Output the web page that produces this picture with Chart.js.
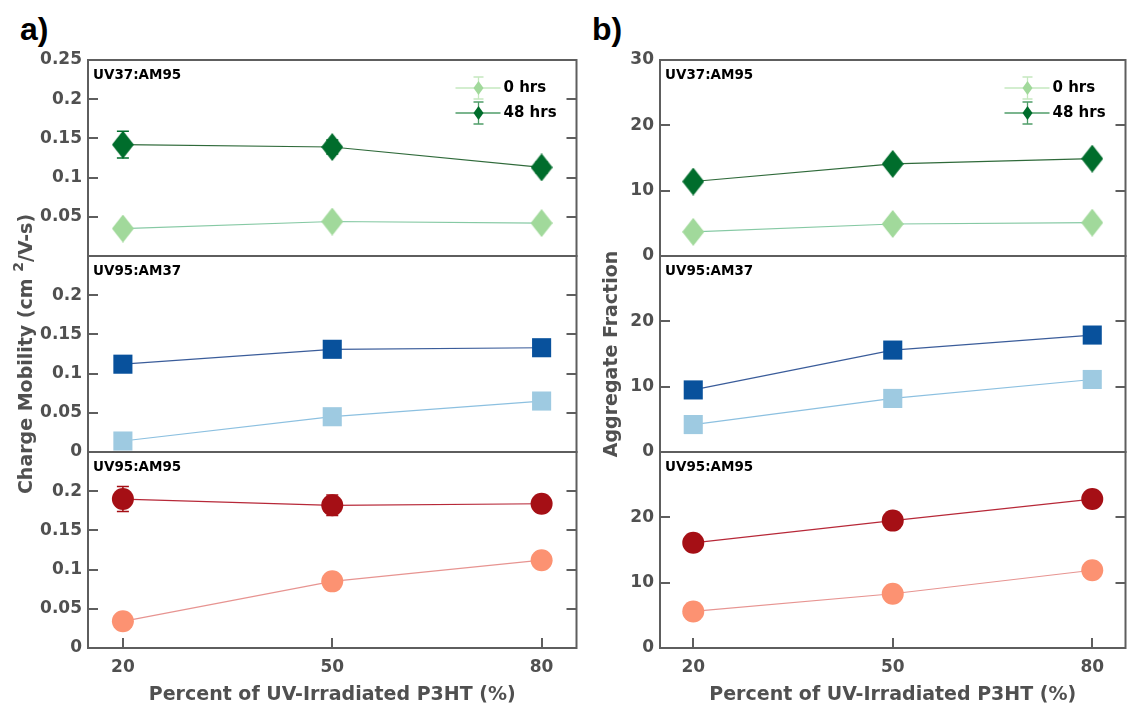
<!DOCTYPE html>
<html>
<head>
<meta charset="utf-8">
<script src="https://cdn.jsdelivr.net/npm/chart.js@4.4.1/dist/chart.umd.min.js"></script>
<style>
  html, body { margin: 0; padding: 0; background: #fff; width: 1139px; height: 711px; overflow: hidden; }
  .wrap { position: absolute; top: 0; }
  .tag { position: absolute; font: bold 32px "Liberation Sans", Arial, sans-serif; line-height: 1; color: #000; }
</style>
</head>
<body>
<div class="tag" style="left:20px; top:13px;">a)</div>
<div class="tag" style="left:592px; top:13px;">b)</div>
<div class="wrap" style="left:0px;"><canvas id="mobility" width="590" height="711"></canvas></div>
<div class="wrap" style="left:590px;"><canvas id="fraction" width="549" height="711"></canvas></div>
<script>
// ---- data ----
const percentUV = [20, 50, 80];
const xTickValues = [20, 50, 80];

const mobilityTicks = [0, 0.05, 0.1, 0.15, 0.2, 0.25];
const mobilityTopLabels = ['', '0.05', '0.1', '0.15', '0.2', '0.25'];
const mobilityLowerLabels = ['0', '0.05', '0.1', '0.15', '0.2', ''];

const fractionTicks = [0, 10, 20, 30];
const fractionTopLabels = ['0', '10', '20', '30'];
const fractionLowerLabels = ['0', '10', '20', ''];

const panelNames = ['UV37:AM95', 'UV95:AM37', 'UV95:AM95'];
const seriesNames = ['0 hrs', '48 hrs'];

// charge mobility (cm^2/V-s)
const mobUV37AM95_0h  = [0.035, 0.044, 0.042];
const mobUV37AM95_48h = [0.142, 0.139, 0.113];
const mobUV95AM37_0h  = [0.014, 0.045, 0.065];
const mobUV95AM37_48h = [0.112, 0.131, 0.133];
const mobUV95AM95_0h  = [0.034, 0.085, 0.112];
const mobUV95AM95_48h = [0.190, 0.182, 0.184];

const mobErrUV37AM95_0h  = [0.004, 0.005, 0.004];
const mobErrUV37AM95_48h = [0.017, 0.009, 0.007];
const mobErrUV95AM37_0h  = [0.003, 0.004, 0.004];
const mobErrUV95AM37_48h = [0.005, 0.008, 0.006];
const mobErrUV95AM95_0h  = [0.004, 0.006, 0.006];
const mobErrUV95AM95_48h = [0.016, 0.013, 0.007];

// aggregate fraction
const aggUV37AM95_0h  = [3.7, 4.9, 5.1];
const aggUV37AM95_48h = [11.4, 14.1, 14.9];
const aggUV95AM37_0h  = [4.2, 8.2, 11.1];
const aggUV95AM37_48h = [9.5, 15.6, 17.9];
const aggUV95AM95_0h  = [5.6, 8.3, 11.9];
const aggUV95AM95_48h = [16.1, 19.5, 22.8];

const aggErrUV37AM95_0h  = [0.5, 0.5, 0.5];
const aggErrUV37AM95_48h = [0.6, 0.6, 0.6];
const aggErrUV95AM37_0h  = [0.5, 0.5, 0.5];
const aggErrUV95AM37_48h = [0.6, 0.6, 0.6];
const aggErrUV95AM95_0h  = [0.5, 0.5, 0.5];
const aggErrUV95AM95_48h = [0.6, 0.6, 0.6];

// ---- styling ----
const FONT = '"DejaVu Sans", "Liberation Sans", sans-serif';
const tickColor = '#505050';
const frameColor = '#5e5e5e';

const palette = {
  green: { light: '#a1d99b', dark: '#006d2c', lightLine: '#86c9a4', darkLine: '#2f6a3a',
           legendLight: '#c5e8bf', legendDark: '#4f9d68' },
  blue:  { light: '#9ecae1', dark: '#08519c', lightLine: '#8cc0e0', darkLine: '#3a5c9a' },
  red:   { light: '#fc9272', dark: '#a50f15', lightLine: '#e79491', darkLine: '#b72838' }
};

function makeDiamond(color, w, h) {
  const c = document.createElement('canvas');
  c.width = w; c.height = h;
  const g = c.getContext('2d');
  g.fillStyle = color;
  g.beginPath();
  g.moveTo(w / 2, 0); g.lineTo(w, h / 2); g.lineTo(w / 2, h); g.lineTo(0, h / 2);
  g.closePath(); g.fill();
  return c;
}

const markers = {
  diamondLight: { style: makeDiamond(palette.green.light, 22, 28), radius: 12 },
  diamondDark:  { style: makeDiamond(palette.green.dark, 22, 28), radius: 12 },
  square: { style: 'rect', radius: 13.5 },
  circle: { style: 'circle', radius: 11 }
};

function series(label, values, errors, axis, marker, markerColor, lineColor) {
  return {
    label, yAxisID: axis, errors,
    data: percentUV.map((x, i) => ({ x, y: values[i] })),
    borderColor: lineColor, borderWidth: 1.2,
    backgroundColor: markerColor,
    pointBackgroundColor: markerColor, pointBorderColor: markerColor, pointBorderWidth: 0,
    pointStyle: marker.style, pointRadius: marker.radius,
    tension: 0, clip: false
  };
}

function yAxis(weight, min, max, tickVals, labels, width) {
  return {
    type: 'linear', position: 'left', stack: 'panels', stackWeight: 1, weight,
    min, max,
    afterBuildTicks: s => { s.ticks = tickVals.map(v => ({ value: v })); },
    ticks: { callback: (v, i) => labels[i], font: { family: FONT, size: 17, weight: 'bold' },
             color: tickColor, padding: 6, autoSkip: false },
    grid: { display: false, drawTicks: false },
    border: { display: false },
    afterFit: s => { s.width = width; }
  };
}

function xAxis() {
  return {
    type: 'linear', position: 'bottom', min: 15, max: 85,
    afterBuildTicks: s => { s.ticks = xTickValues.map(v => ({ value: v })); },
    ticks: { font: { family: FONT, size: 17, weight: 'bold' }, color: tickColor, padding: 9 },
    grid: { display: false, drawTicks: false },
    border: { display: false },
    title: { display: true, text: 'Percent of UV-Irradiated P3HT (%)', color: tickColor,
             font: { family: FONT, size: 19, weight: 'bold' }, padding: { top: 0, bottom: 5 } },
    afterFit: s => { s.height = 63; }
  };
}

// frames, inward ticks, error bars, panel names, legend and the y title
const panelDeco = {
  id: 'panelDeco',
  beforeDatasetsDraw(chart) {
    const ctx = chart.ctx;
    chart.data.datasets.forEach((ds, i) => {
      const meta = chart.getDatasetMeta(i);
      const ys = chart.scales[ds.yAxisID];
      ctx.save();
      ctx.strokeStyle = ds.pointBackgroundColor;
      ctx.lineWidth = 1.5;
      meta.data.forEach((pt, j) => {
        const v = ds.data[j].y, e = ds.errors[j];
        const yTop = ys.getPixelForValue(v + e), yBot = ys.getPixelForValue(v - e);
        ctx.beginPath();
        ctx.moveTo(pt.x, yTop); ctx.lineTo(pt.x, yBot);
        ctx.moveTo(pt.x - 6, yTop); ctx.lineTo(pt.x + 6, yTop);
        ctx.moveTo(pt.x - 6, yBot); ctx.lineTo(pt.x + 6, yBot);
        ctx.stroke();
      });
      ctx.restore();
    });
  },
  afterDatasetsDraw(chart, args, opts) {
    const ctx = chart.ctx;
    const ca = chart.chartArea;
    ctx.save();
    ctx.strokeStyle = frameColor;
    ctx.lineWidth = 2;
    opts.panels.forEach(p => {
      const s = chart.scales[p.axis];
      ctx.strokeRect(ca.left, s.top, ca.right - ca.left, s.bottom - s.top);
      ctx.beginPath();
      s.ticks.forEach(t => {
        if (t.value <= s.min || t.value >= s.max) return;
        const y = Math.round(s.getPixelForValue(t.value));
        ctx.moveTo(ca.left, y); ctx.lineTo(ca.left + 10, y);
        ctx.moveTo(ca.right - 10, y); ctx.lineTo(ca.right, y);
      });
      ctx.stroke();
      ctx.fillStyle = '#000';
      ctx.font = 'bold 13.5px ' + FONT;
      ctx.textBaseline = 'middle';
      ctx.textAlign = 'left';
      ctx.fillText(p.name, ca.left + 5, s.top + 15);
    });
    const xs = chart.scales.x;
    ctx.beginPath();
    xs.ticks.forEach(t => {
      const x = Math.round(xs.getPixelForValue(t.value));
      ctx.moveTo(x, ca.bottom); ctx.lineTo(x, ca.bottom - 10);
    });
    ctx.stroke();

    // legend in the top panel
    const top = chart.scales[opts.panels[0].axis];
    opts.legend.forEach((item, k) => {
      const y = top.top + 28 + k * 25;
      const R = ca.right;
      ctx.strokeStyle = item.line;
      ctx.lineWidth = 1.3;
      ctx.beginPath(); ctx.moveTo(R - 121, y); ctx.lineTo(R - 76, y); ctx.stroke();
      const mx = R - 98;
      ctx.strokeStyle = item.bar;
      ctx.beginPath();
      ctx.moveTo(mx, y - 11); ctx.lineTo(mx, y + 11);
      ctx.moveTo(mx - 5, y - 11); ctx.lineTo(mx + 5, y - 11);
      ctx.moveTo(mx - 5, y + 11); ctx.lineTo(mx + 5, y + 11);
      ctx.stroke();
      ctx.fillStyle = item.marker;
      ctx.beginPath();
      ctx.moveTo(mx, y - 7); ctx.lineTo(mx + 5, y); ctx.lineTo(mx, y + 7); ctx.lineTo(mx - 5, y);
      ctx.closePath(); ctx.fill();
      ctx.fillStyle = '#000';
      ctx.font = 'bold 15px ' + FONT;
      ctx.textBaseline = 'middle';
      ctx.textAlign = 'left';
      ctx.fillText(item.text, R - 73, y);
    });

    // rotated y-axis title, optionally with a superscript part
    ctx.translate(opts.title.x, (ca.top + ca.bottom) / 2);
    ctx.rotate(-Math.PI / 2);
    ctx.fillStyle = tickColor;
    ctx.textBaseline = 'middle';
    ctx.textAlign = 'left';
    const parts = opts.title.parts;
    const fontFor = p => 'bold ' + (p.sup ? 14 : 19) + 'px ' + FONT;
    let total = 0;
    parts.forEach(p => { ctx.font = fontFor(p); total += ctx.measureText(p.text).width; });
    let x = -total / 2;
    parts.forEach(p => {
      ctx.font = fontFor(p);
      ctx.fillText(p.text, x, p.sup ? -8 : 0);
      x += ctx.measureText(p.text).width;
    });
    ctx.restore();
  }
};

const greenLegend = [
  { text: seriesNames[0], line: palette.green.legendLight, bar: palette.green.legendLight, marker: palette.green.light },
  { text: seriesNames[1], line: palette.green.legendDark, bar: palette.green.legendDark, marker: palette.green.dark }
];

const panelsSpec = panelNames.map((name, k) => ({ axis: 'y' + (k + 1), name }));

// ---- charge mobility column ----
new Chart(document.getElementById('mobility'), {
  type: 'line',
  data: {
    datasets: [
      series(seriesNames[0], mobUV37AM95_0h, mobErrUV37AM95_0h, 'y1', markers.diamondLight, palette.green.light, palette.green.lightLine),
      series(seriesNames[1], mobUV37AM95_48h, mobErrUV37AM95_48h, 'y1', markers.diamondDark, palette.green.dark, palette.green.darkLine),
      series(seriesNames[0], mobUV95AM37_0h, mobErrUV95AM37_0h, 'y2', markers.square, palette.blue.light, palette.blue.lightLine),
      series(seriesNames[1], mobUV95AM37_48h, mobErrUV95AM37_48h, 'y2', markers.square, palette.blue.dark, palette.blue.darkLine),
      series(seriesNames[0], mobUV95AM95_0h, mobErrUV95AM95_0h, 'y3', markers.circle, palette.red.light, palette.red.lightLine),
      series(seriesNames[1], mobUV95AM95_48h, mobErrUV95AM95_48h, 'y3', markers.circle, palette.red.dark, palette.red.darkLine)
    ]
  },
  options: {
    responsive: false, animation: false, events: [],
    layout: { padding: { top: 60, right: 12, bottom: 0, left: 0 } },
    scales: {
      x: xAxis(),
      y1: yAxis(3, 0, 0.25, mobilityTicks, mobilityTopLabels, 88),
      y2: yAxis(2, 0, 0.25, mobilityTicks, mobilityLowerLabels, 88),
      y3: yAxis(1, 0, 0.25, mobilityTicks, mobilityLowerLabels, 88)
    },
    plugins: {
      legend: { display: false }, tooltip: { enabled: false },
      panelDeco: {
        panels: panelsSpec, legend: greenLegend,
        title: { x: 27, parts: [{ text: 'Charge Mobility (cm ' }, { text: '2', sup: true }, { text: '/V-s)' }] }
      }
    }
  },
  plugins: [panelDeco]
});

// ---- aggregate fraction column ----
new Chart(document.getElementById('fraction'), {
  type: 'line',
  data: {
    datasets: [
      series(seriesNames[0], aggUV37AM95_0h, aggErrUV37AM95_0h, 'y1', markers.diamondLight, palette.green.light, palette.green.lightLine),
      series(seriesNames[1], aggUV37AM95_48h, aggErrUV37AM95_48h, 'y1', markers.diamondDark, palette.green.dark, palette.green.darkLine),
      series(seriesNames[0], aggUV95AM37_0h, aggErrUV95AM37_0h, 'y2', markers.square, palette.blue.light, palette.blue.lightLine),
      series(seriesNames[1], aggUV95AM37_48h, aggErrUV95AM37_48h, 'y2', markers.square, palette.blue.dark, palette.blue.darkLine),
      series(seriesNames[0], aggUV95AM95_0h, aggErrUV95AM95_0h, 'y3', markers.circle, palette.red.light, palette.red.lightLine),
      series(seriesNames[1], aggUV95AM95_48h, aggErrUV95AM95_48h, 'y3', markers.circle, palette.red.dark, palette.red.darkLine)
    ]
  },
  options: {
    responsive: false, animation: false, events: [],
    layout: { padding: { top: 60, right: 8, bottom: 0, left: 0 } },
    scales: {
      x: xAxis(),
      y1: yAxis(3, 0, 30, fractionTicks, fractionTopLabels, 70),
      y2: yAxis(2, 0, 30, fractionTicks, fractionLowerLabels, 70),
      y3: yAxis(1, 0, 30, fractionTicks, fractionLowerLabels, 70)
    },
    plugins: {
      legend: { display: false }, tooltip: { enabled: false },
      panelDeco: {
        panels: panelsSpec, legend: greenLegend,
        title: { x: 22, parts: [{ text: 'Aggregate Fraction' }] }
      }
    }
  },
  plugins: [panelDeco]
});
</script>
</body>
</html>
